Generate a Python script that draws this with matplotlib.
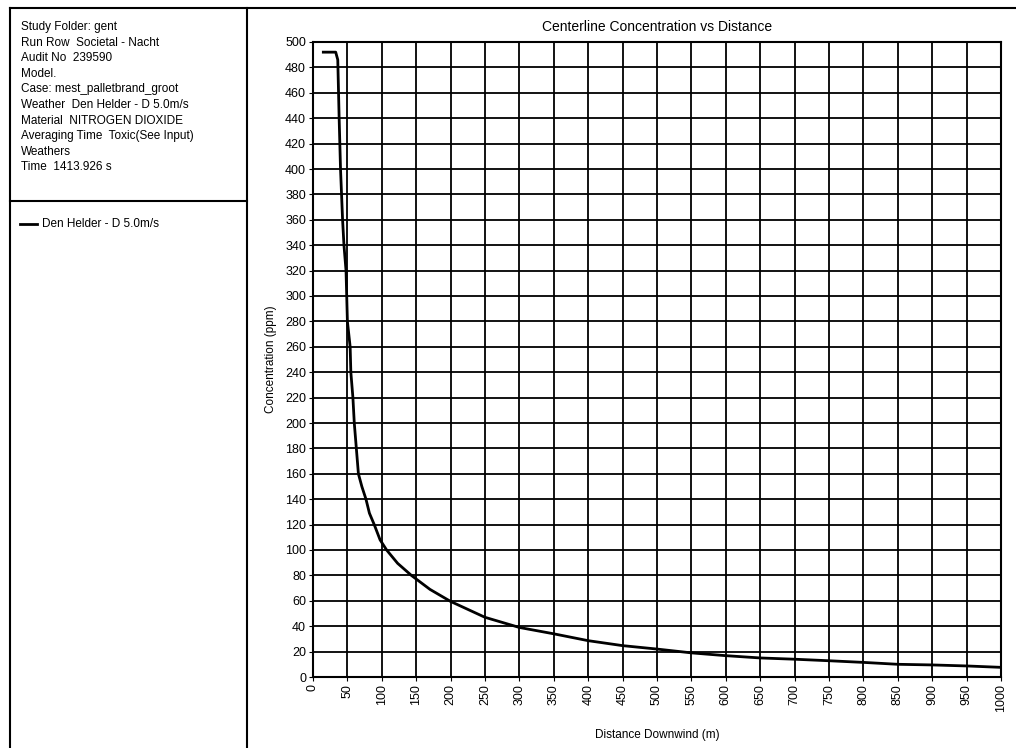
import numpy as np
import matplotlib.pyplot as plt
from matplotlib.lines import Line2D

plt.rcParams['font.family'] = ['Liberation Sans Narrow', 'Liberation Sans', 'DejaVu Sans']

# centerline concentration
dist = [15, 33, 36, 38, 40, 43, 45, 48, 50, 54, 55, 58, 60, 63, 66, 71, 77, 82, 89, 97.5,
        107, 123, 143, 170, 200, 250, 300, 350, 400, 450, 500, 550, 600, 650, 700,
        750, 800, 850, 900, 950, 1000]
conc = [492, 492, 486, 440, 400, 360, 340, 320, 280, 260, 240, 220, 200, 180, 160,
        150, 140, 129, 120, 108, 100, 89.5, 80, 69, 59.5, 47, 39, 34, 28.6, 24.7, 22, 19,
        16.8, 15, 14, 12.8, 11.5, 10, 9.5, 8.7, 7.6]

info_lines = [
    "Study Folder: gent",
    "Run Row  Societal - Nacht",
    "Audit No  239590",
    "Model.",
    "Case: mest_palletbrand_groot",
    "Weather  Den Helder - D 5.0m/s",
    "Material  NITROGEN DIOXIDE",
    "Averaging Time  Toxic(See Input)",
    "Weathers",
    "Time  1413.926 s",
]
series_name = "Den Helder - D 5.0m/s"

W, H = 1016, 748
fig = plt.figure(figsize=(W / 100, H / 100), dpi=100)

# panel borders
def fx(px): return px / W
def fy(py): return 1 - py / H

for xs, ys in [((10, 10), (8, H)), ((247, 247), (8, H)), ((10, W), (8, 8)), ((10, 247), (201, 201))]:
    fig.add_artist(Line2D([fx(x) for x in xs], [fy(y) for y in ys], color='black', lw=1.5))

for i, t in enumerate(info_lines):
    fig.text(fx(21), fy(27 + i * 15.6), t, fontsize=8.5, va='center', ha='left')

fig.add_artist(Line2D([fx(20), fx(37)], [fy(224), fy(224)], color='black', lw=2))
fig.text(fx(42), fy(224), series_name, fontsize=8.5, va='center', ha='left')

ax = fig.add_axes([313 / W, 1 - 677 / H, (1001 - 313) / W, (677 - 42) / H])
ax.plot(dist, conc, color='black', lw=2)
ax.set_xlim(0, 1000)
ax.set_ylim(0, 500)
ax.set_xticks(np.arange(0, 1001, 50))
ax.set_yticks(np.arange(0, 501, 20))
ax.tick_params(axis='x', labelrotation=90, labelsize=9, length=3, pad=2)
ax.tick_params(axis='y', labelsize=9, length=3, pad=2)
ax.grid(True, color='black', lw=1.3)
for s in ax.spines.values():
    s.set_linewidth(1.5)

ax.set_title("Centerline Concentration vs Distance", fontsize=10, pad=8)
ax.set_xlabel("Distance Downwind (m)", fontsize=8.5, labelpad=12)
ax.set_ylabel("Concentration (ppm)", fontsize=8.5, labelpad=6)

fig.savefig("out.png", dpi=100)
